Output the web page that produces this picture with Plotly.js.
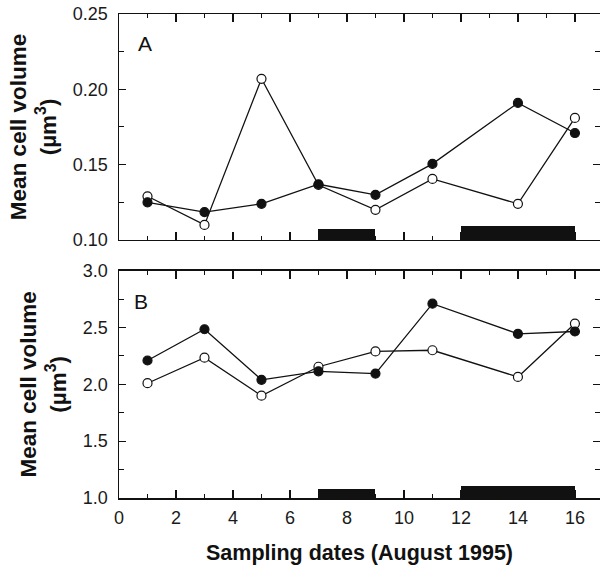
<!DOCTYPE html>
<html>
<head>
<meta charset="utf-8">
<script src="https://cdn.plot.ly/plotly-3.0.1.min.js"></script>
<style>html,body{margin:0;padding:0;background:#fff;}#chart{width:600px;height:565px;}</style>
</head>
<body>
<div id="chart"></div>
<script>
// Sampling dates (day of August 1995)
const days = [1, 3, 5, 7, 9, 11, 14, 16];

// Panel A: mean cell volume (µm³)
const aFilled = [0.125, 0.1185, 0.124, 0.137, 0.130, 0.1505, 0.191, 0.171];
const aOpen   = [0.129, 0.110, 0.207, 0.1365, 0.120, 0.1405, 0.124, 0.181];

// Panel B: mean cell volume (µm³)
const bFilled = [2.21, 2.485, 2.04, 2.115, 2.095, 2.71, 2.445, 2.465];
const bOpen   = [2.01, 2.235, 1.90, 2.155, 2.29, 2.30, 2.065, 2.535];

// Dark bars along the x axis (periods)
const barStart = [7, 12];
const barEnd   = [9, 16];
const barHeightA = [0.0073, 0.0093];
const barHeightB = [0.08, 0.106];

// Tick labels
const xTickVals = [0,1,2,3,4,5,6,7,8,9,10,11,12,13,14,15,16];
const xMajor = [0,2,4,6,8,10,12,14,16];
const yATicks = [0.10, 0.15, 0.20, 0.25];
const yBTicks = [1.0, 1.5, 2.0, 2.5, 3.0];

const ink = '#111';
const barCenters = barStart.map((s, i) => (s + barEnd[i]) / 2);
const barWidths = barStart.map((s, i) => barEnd[i] - s);

function lineTrace(y, filled, xa, ya) {
  return {
    x: days, y: y, xaxis: xa, yaxis: ya, type: 'scatter', mode: 'lines+markers',
    line: {color: ink, width: 1.3},
    marker: {symbol: 'circle', size: 9, color: filled ? ink : '#fff', line: {color: ink, width: 1.2}},
    cliponaxis: false, showlegend: false, hoverinfo: 'skip'
  };
}
function barTrace(h, base, xa, ya) {
  return {
    x: barCenters, y: h, width: barWidths, base: base, type: 'bar',
    xaxis: xa, yaxis: ya, marker: {color: ink, line: {width: 0}},
    showlegend: false, hoverinfo: 'skip'
  };
}

const data = [
  barTrace(barHeightA, 0.10, 'x', 'y'),
  lineTrace(aOpen, false, 'x', 'y'),
  lineTrace(aFilled, true, 'x', 'y'),
  barTrace(barHeightB, 1.0, 'x2', 'y2'),
  lineTrace(bOpen, false, 'x2', 'y2'),
  lineTrace(bFilled, true, 'x2', 'y2')
];

const tickFont = {family: 'Liberation Sans, Arial, sans-serif', size: 18, color: '#1a1a1a'};
const xTitleFont = {family: 'Liberation Sans, Arial, sans-serif', size: 21.5, color: '#111', weight: 'bold'};
const yTitleFont = {family: 'Liberation Sans, Arial, sans-serif', size: 22.5, color: '#111', weight: 'bold'};

function xAxis(showLabels, anchor) {
  return {
    anchor: anchor, domain: [0, 1], range: [0, 16.88],
    tickvals: xMajor, ticktext: xMajor.map(String), showticklabels: showLabels,
    ticks: 'inside', ticklen: 8, tickwidth: 1.2, tickcolor: ink,
    minor: {tickvals: xTickVals, ticks: 'inside', ticklen: 4, tickwidth: 1, tickcolor: ink},
    showline: true, linecolor: ink, linewidth: 1.5, mirror: 'ticks',
    showgrid: false, zeroline: false, tickfont: tickFont, fixedrange: true,
    ticklabelstandoff: 3
  };
}
function yAxis(range, ticks, minorStep, fmt, domain, anchor) {
  return {
    anchor: anchor, domain: domain, range: range,
    tickvals: ticks, ticktext: ticks.map(v => v.toFixed(fmt)),
    ticks: 'inside', ticklen: 7, tickwidth: 1.2, tickcolor: ink,
    minor: {dtick: minorStep, ticks: 'inside', ticklen: 5, tickwidth: 1, tickcolor: ink},
    showline: true, linecolor: ink, linewidth: 1.5, mirror: 'ticks',
    showgrid: false, zeroline: false, tickfont: tickFont, fixedrange: true,
    ticklabelstandoff: 6,
    title: {text: 'Mean cell volume<br>(µm<sup>3</sup>)', font: yTitleFont, standoff: 10}
  };
}

const layout = {
  width: 600, height: 565,
  margin: {l: 119, r: 0, t: 14, b: 67},
  paper_bgcolor: '#fff', plot_bgcolor: '#fff',
  barmode: 'overlay', bargap: 0,
  xaxis: xAxis(false, 'y'),
  yaxis: yAxis([0.10, 0.25], yATicks, 0.025, 2, [0.5331, 1], 'x'),
  xaxis2: Object.assign(xAxis(true, 'y2'), {
    title: {text: 'Sampling dates (August 1995)', font: xTitleFont, standoff: 18}
  }),
  yaxis2: yAxis([1.0, 3.0], yBTicks, 0.25, 1, [0, 0.4696], 'x2'),
  annotations: [
    {text: 'A', xref: 'x domain', yref: 'y domain', x: 0.035, y: 0.87, xanchor: 'left', yanchor: 'middle',
     showarrow: false, font: {family: 'Liberation Sans, Arial, sans-serif', size: 21, color: '#111'}},
    {text: 'B', xref: 'x2 domain', yref: 'y2 domain', x: 0.027, y: 0.864, xanchor: 'left', yanchor: 'middle',
     showarrow: false, font: {family: 'Liberation Sans, Arial, sans-serif', size: 21, color: '#111'}}
  ]
};

Plotly.newPlot('chart', data, layout, {staticPlot: true, displayModeBar: false});
</script>
</body>
</html>
